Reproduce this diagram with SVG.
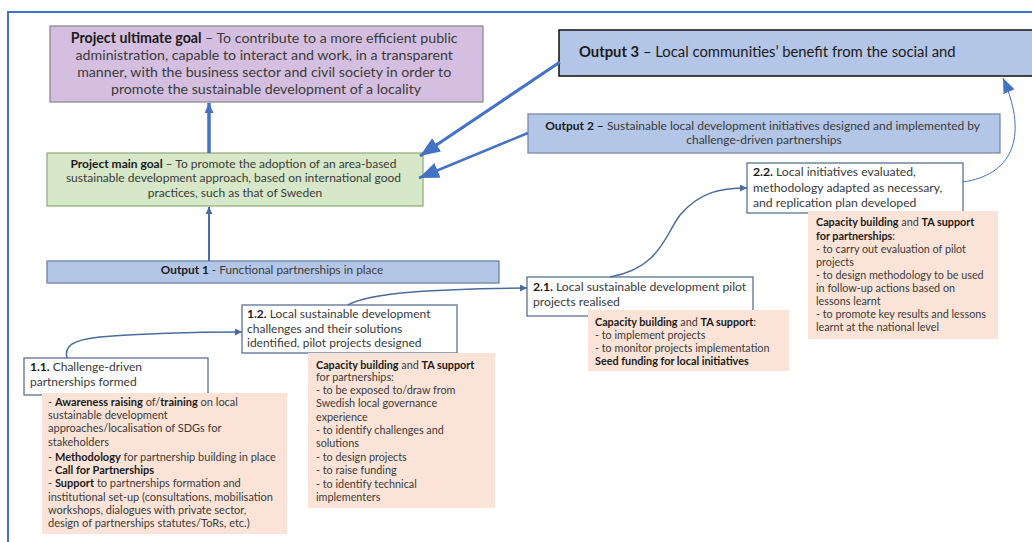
<svg xmlns="http://www.w3.org/2000/svg" width="1032" height="542" viewBox="0 0 1032 542">
<defs>
<style>
.t{font-family:Lato,"Liberation Sans",sans-serif;fill:#3a3a3a}
.b{font-weight:bold;fill:#1a1a1a}
.blue{fill:#b4c6e7}
.peach{fill:#fbe4d7}
.wbox{fill:#ffffff;stroke:#5b7292;stroke-width:1.3}
.c{fill:none;stroke:#4472c4}
</style>
<marker id="big" markerUnits="userSpaceOnUse" markerWidth="22" markerHeight="18" refX="20" refY="8" orient="auto"><path d="M0,0 L20,8 L0,16 Z" fill="#4472c4"/></marker>
<marker id="mid" markerUnits="userSpaceOnUse" markerWidth="12" markerHeight="10" refX="10" refY="4.5" orient="auto"><path d="M0,0 L10,4.5 L0,9 Z" fill="#4472c4"/></marker>
<marker id="sm" markerUnits="userSpaceOnUse" markerWidth="8" markerHeight="8" refX="7" refY="3.5" orient="auto"><path d="M0,0 L7,3.5 L0,7 Z" fill="#4a6c9c"/></marker>
<marker id="cur" markerUnits="userSpaceOnUse" markerWidth="16" markerHeight="14" refX="15" refY="6" orient="auto"><path d="M0,0 L15,6 L0,12 Z" fill="#4472c4"/></marker>
</defs>
<rect width="1032" height="542" fill="#ffffff"/>
<rect x="8" y="12" width="1040" height="560" fill="none" stroke="#4472c4" stroke-width="2"/>

<g id="ultimate-goal">
<rect x="50" y="26" width="433" height="76" fill="#d5bfe0" stroke="#8c8c8c" stroke-width="1.3"/>
<text class="t" font-size="14.2" text-anchor="middle">
<tspan x="266" y="43"><tspan class="b">Project ultimate goal </tspan> – To contribute to a more efficient public</tspan>
<tspan x="266" y="60">administration, capable to interact and work, in a transparent</tspan>
<tspan x="266" y="77">manner, with the business sector and civil society in order to</tspan>
<tspan x="266" y="94">promote the sustainable development of a locality</tspan>
</text>
</g>

<g id="main-goal">
<rect x="47" y="153" width="376" height="53" fill="#d6e8c8" stroke="#94b07e" stroke-width="1.3"/>
<text class="t" font-size="12" text-anchor="middle">
<tspan x="235" y="168"><tspan class="b">Project main goal </tspan> – To promote the adoption of an area-based</tspan>
<tspan x="235" y="182">sustainable development approach, based on international good</tspan>
<tspan x="235" y="197">practices, such as that of Sweden</tspan>
</text>
</g>

<g id="output1">
<rect x="47" y="261" width="452" height="22" class="blue" stroke="#6f80a0" stroke-width="1.3"/>
<text class="t" font-size="11.8" text-anchor="middle" x="272" y="274"><tspan class="b">Output 1</tspan> - Functional partnerships in place</text>
</g>

<g id="output3">
<rect x="559" y="30" width="480" height="46" class="blue" stroke="#111111" stroke-width="1.5"/>
<text class="t" font-size="14.8" x="579" y="57" style="fill:#1a1a1a"><tspan class="b">Output 3</tspan> – Local communities’ benefit from the social and</text>
</g>

<g id="output2">
<rect x="528" y="114" width="472" height="39" class="blue" stroke="#7b8aa3" stroke-width="1.3"/>
<text class="t" font-size="12" text-anchor="middle">
<tspan x="764" y="130"><tspan class="b">Output 2 –</tspan> Sustainable local development initiatives designed and implemented by</tspan>
<tspan x="764" y="144">challenge-driven partnerships</tspan>
</text>
</g>

<g id="n22">
<rect x="747" y="163" width="216" height="50" class="wbox"/>
<text class="t" font-size="12.2">
<tspan x="753" y="176"><tspan class="b">2.2.</tspan> Local initiatives evaluated,</tspan>
<tspan x="753" y="192">methodology adapted as necessary,</tspan>
<tspan x="753" y="207">and replication plan developed</tspan>
</text>
</g>

<g id="n22-support">
<rect x="808" y="211" width="190" height="128" class="peach"/>
<text class="t" font-size="10.8">
<tspan x="816" y="226"><tspan class="b">Capacity building</tspan> and <tspan class="b">TA support</tspan></tspan>
<tspan x="816" y="240"><tspan class="b">for partnerships</tspan>:</tspan>
<tspan x="816" y="253">- to carry out evaluation of pilot</tspan>
<tspan x="816" y="266">projects</tspan>
<tspan x="816" y="279">- to design methodology to be used</tspan>
<tspan x="816" y="292">in follow-up actions based on</tspan>
<tspan x="816" y="305">lessons learnt</tspan>
<tspan x="816" y="318">- to promote key results and lessons</tspan>
<tspan x="816" y="331">learnt at the national level</tspan>
</text>
</g>

<g id="n21">
<rect x="527" y="277" width="226" height="39" class="wbox"/>
<text class="t" font-size="12.2">
<tspan x="533" y="291"><tspan class="b">2.1.</tspan> Local sustainable development pilot</tspan>
<tspan x="533" y="306">projects realised</tspan>
</text>
</g>

<g id="n21-support">
<rect x="588" y="310" width="201" height="61" class="peach"/>
<text class="t" font-size="10.8">
<tspan x="595" y="326"><tspan class="b">Capacity building</tspan> and <tspan class="b">TA support</tspan>:</tspan>
<tspan x="595" y="339">- to implement projects</tspan>
<tspan x="595" y="352">- to monitor projects implementation</tspan>
<tspan x="595" y="365" class="b">Seed funding for local initiatives</tspan>
</text>
</g>

<g id="n12">
<rect x="242" y="305" width="215" height="48" class="wbox"/>
<text class="t" font-size="12">
<tspan x="247" y="318"><tspan class="b">1.2.</tspan> Local sustainable development</tspan>
<tspan x="247" y="333">challenges and their solutions</tspan>
<tspan x="247" y="347">identified, pilot projects designed</tspan>
</text>
</g>

<g id="n12-support">
<rect x="308" y="353" width="187" height="155" class="peach"/>
<text class="t" font-size="10.8">
<tspan x="316" y="369"><tspan class="b">Capacity building</tspan> and <tspan class="b">TA support</tspan></tspan>
<tspan x="316" y="381">for partnerships:</tspan>
<tspan x="316" y="394">- to be exposed to/draw from</tspan>
<tspan x="316" y="407">Swedish local governance</tspan>
<tspan x="316" y="421">experience</tspan>
<tspan x="316" y="434">- to identify challenges and</tspan>
<tspan x="316" y="447">solutions</tspan>
<tspan x="316" y="461">- to design projects</tspan>
<tspan x="316" y="474">- to raise funding</tspan>
<tspan x="316" y="488">- to identify technical</tspan>
<tspan x="316" y="501">implementers</tspan>
</text>
</g>

<g id="n11">
<rect x="24" y="358" width="184" height="37" class="wbox"/>
<text class="t" font-size="12">
<tspan x="30" y="371"><tspan class="b">1.1.</tspan> Challenge-driven</tspan>
<tspan x="30" y="386">partnerships formed</tspan>
</text>
</g>

<g id="n11-support">
<rect x="42" y="393" width="245" height="141" class="peach"/>
<text class="t" font-size="11">
<tspan x="48" y="406">- <tspan class="b">Awareness raising</tspan> of/<tspan class="b">training</tspan> on local</tspan>
<tspan x="48" y="419">sustainable development</tspan>
<tspan x="48" y="432">approaches/localisation of SDGs for</tspan>
<tspan x="48" y="446">stakeholders</tspan>
<tspan x="48" y="461">- <tspan class="b">Methodology</tspan> for partnership building in place</tspan>
<tspan x="48" y="474">- <tspan class="b">Call for Partnerships</tspan></tspan>
<tspan x="48" y="487">- <tspan class="b">Support</tspan> to partnerships formation and</tspan>
<tspan x="48" y="501">institutional set-up (consultations, mobilisation</tspan>
<tspan x="48" y="514">workshops, dialogues with private sector,</tspan>
<tspan x="48" y="527">design of partnerships statutes/ToRs, etc.)</tspan>
</text>
</g>

<g id="connectors">
<line class="c" x1="209" y1="153" x2="209" y2="103" stroke-width="3.5" marker-end="url(#mid)"/>
<line class="c" x1="209" y1="261" x2="209" y2="207" stroke-width="2" style="stroke:#4a6cae" marker-end="url(#sm)"/>
<line class="c" x1="560" y1="62" x2="420" y2="156" stroke-width="3" marker-end="url(#big)"/>
<line class="c" x1="528" y1="133" x2="419" y2="178" stroke-width="2.5" marker-end="url(#big)"/>
<path class="c" d="M963,182 C1010,175 1030,140 1003,78" stroke-width="1" marker-end="url(#cur)"/>
<path class="c" d="M67,358 C64,346 72,340 100,337 C150,333 200,332 242,332" stroke-width="1.5" style="stroke:#4a6c9c" marker-end="url(#sm)"/>
<path class="c" d="M348,305 C370,292 440,289 527,288" stroke-width="1.5" style="stroke:#4a6c9c" marker-end="url(#sm)"/>
<path class="c" d="M610,277 C660,268 665,235 680,215 C700,192 720,188 747,188" stroke-width="1.5" style="stroke:#4a6c9c" marker-end="url(#sm)"/>
</g>
</svg>
